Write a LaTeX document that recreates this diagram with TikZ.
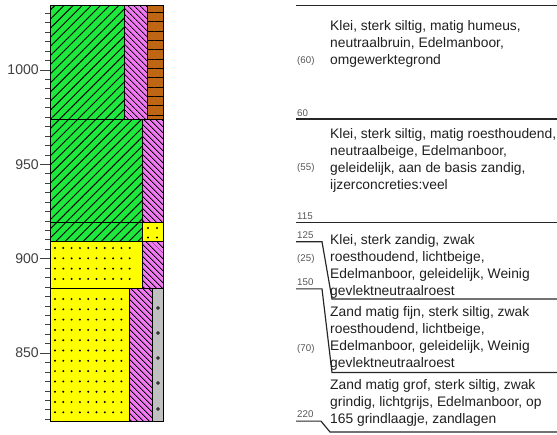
\documentclass[tikz,border=0pt]{standalone}
\usepackage{fontspec}
\setmainfont{Liberation Sans}
\usetikzlibrary{patterns.meta}
\definecolor{kleigroen}{RGB}{30,232,60}
\definecolor{roestroze}{RGB}{240,120,240}
\definecolor{humusbruin}{RGB}{190,102,20}
\definecolor{zandgeel}{RGB}{255,255,0}
\definecolor{grindgrijs}{RGB}{192,192,192}
\definecolor{labelgrijs}{RGB}{85,85,85}
\tikzset{
  laag/.style={draw=black, line width=0.8pt},
  klei/.style={laag, preaction={fill=kleigroen}, pattern={Lines[angle=45,distance=5.5pt,line width=0.8pt]}, pattern color=black},
  roest/.style={laag, preaction={fill=roestroze}, pattern={Lines[angle=-45,distance=4pt,line width=0.8pt]}, pattern color=black},
  humus/.style={laag, preaction={fill=humusbruin}, pattern={Lines[angle=0,distance=8pt,line width=0.8pt]}, pattern color=black},
  zand/.style={laag, fill=zandgeel},
  grind/.style={laag, fill=grindgrijs},
  grens/.style={draw=black!85, line width=1pt},
  omschrijving/.style={anchor=north west, align=left, inner sep=0pt, text=black!88, font=\fontsize{11.8}{14.5}\selectfont},
  diepte/.style={anchor=base west, inner sep=0pt, text=labelgrijs, font=\fontsize{8.3}{10}\selectfont},
  hoogte/.style={anchor=east, inner sep=0pt, text=black!75, font=\fontsize{12}{14}\selectfont}
}
\begin{document}
\begin{tikzpicture}[x=0.03cm,y=-0.03cm]
            \useasboundingbox (0,0) rectangle (557,434);

            % Drawing ticks of the height axis
            \foreach \d in {4,9,...,219}
              \draw [black!75, line width=0.6pt] (45,{5.7+1.888*\d}) -- (50,{5.7+1.888*\d});%
            \foreach \d/\h in {34/1000,84/950,134/900,184/850}{
              \draw [black!75, line width=0.6pt] (40,{5.7+1.888*\d}) -- (50,{5.7+1.888*\d});%
              \node [hoogte] (as\h) at (39,{5.7+1.888*\d}) {\h};%
            }

            % Drawing layer 1 (0-60)
            \path [klei] (50,5.7) rectangle (124.7,119.0);%
            \path [roest] (124.7,5.7) rectangle (147,119.0);%
            \path [humus] (147,5.7) rectangle (163.5,119.0);%

            % Drawing layer 2 (60-115)
            \path [klei] (50,119.0) rectangle (142,222.8);%
            \path [roest] (142,119.0) rectangle (163.5,222.8);%

            % Drawing layer 3 (115-125)
            \path [klei] (50,222.8) rectangle (142,241.7);%
            \path [zand] (142,222.8) rectangle (163.5,241.7);%
            \foreach \x in {148,157}
              \foreach \y in {228,237.5}
                \fill (\x,\y) circle (1.1);%

            % Drawing layer 4 (125-150)
            \path [zand] (50,241.7) rectangle (142,288.9);%
            \foreach \y in {248,258.3,268.6,278.9}
              \foreach \x in {55,63.3,...,138}
                \fill (\x,\y) circle (1.1);%
            \path [roest] (142,241.7) rectangle (163.5,288.9);%

            % Drawing layer 5 (150-220)
            \path [zand] (50,288.9) rectangle (129,421.1);%
            \foreach \y in {299,309.3,...,415}
              \foreach \x in {55,63.3,...,126}
                \fill (\x,\y) circle (1.1);%
            \path [roest] (129,288.9) rectangle (152,421.1);%
            \path [grind] (152,288.9) rectangle (163.5,421.1);%
            \foreach \y in {308,333,358,383,409}
              \draw [line width=0.6pt] (158,\y) circle (1.4);%

            % Drawing boundaries of the description column
            \draw [grens] (296,5.7) -- (557,5.7);%
            \draw [grens] (296,119.0) -- (557,119.0);%
            \draw [grens] (296,222.8) -- (557,222.8);%
            \draw [grens] (296,241.7) -- (322,241.7) -- (332,299) -- (557,299);%
            \draw [grens] (296,288.9) -- (322,288.9) -- (332,372.5) -- (557,372.5);%
            \draw [grens] (296,421.1) -- (321,421.1) -- (330,432) -- (557,432);%

            % Depths and thicknesses
            \node [diepte] (dikte1) at (297,63) {(60)};%
            \node [diepte] (diepte60) at (297,116.5) {60};%
            \node [diepte] (dikte2) at (297,170) {(55)};%
            \node [diepte] (diepte115) at (297,219.5) {115};%
            \node [diepte] (diepte125) at (297,238) {125};%
            \node [diepte] (dikte4) at (297,261) {(25)};%
            \node [diepte] (diepte150) at (297,285) {150};%
            \node [diepte] (dikte5) at (297,351) {(70)};%
            \node [diepte] (diepte220) at (297,417) {220};%

            % Descriptions of the layers
            \node [omschrijving] (omschr1) at (330,20.3) {Klei, sterk siltig, matig humeus,\\neutraalbruin, Edelmanboor,\\omgewerktegrond};%
            \node [omschrijving] (omschr2) at (330,128.3) {Klei, sterk siltig, matig roesthoudend,\\neutraalbeige, Edelmanboor,\\geleidelijk, aan de basis zandig,\\ijzerconcreties:veel};%
            \node [omschrijving] (omschr3) at (330,234.3) {Klei, sterk zandig, zwak\\roesthoudend, lichtbeige,\\Edelmanboor, geleidelijk, Weinig\\gevlektneutraalroest};%
            \node [omschrijving] (omschr4) at (330,306.3) {Zand matig fijn, sterk siltig, zwak\\roesthoudend, lichtbeige,\\Edelmanboor, geleidelijk, Weinig\\gevlektneutraalroest};%
            \node [omschrijving] (omschr5) at (330,379.3) {Zand matig grof, sterk siltig, zwak\\grindig, lichtgrijs, Edelmanboor, op\\165 grindlaagje, zandlagen};%
\end{tikzpicture}
\end{document}
